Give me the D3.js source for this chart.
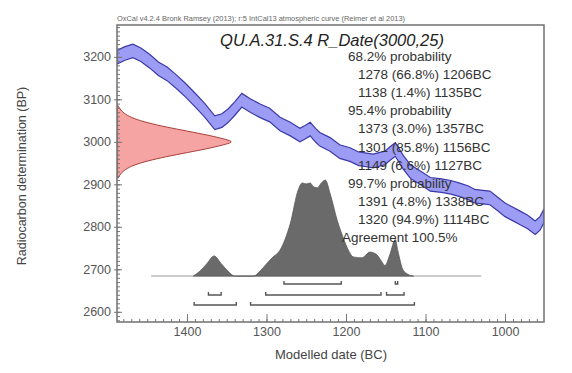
<!DOCTYPE html>
<html>
<head>
<meta charset="utf-8">
<script src="https://cdn.jsdelivr.net/npm/d3@7"></script>
<style>
  body { margin: 0; background: #fff; }
  svg { display: block; font-family: Arial, "Liberation Sans", sans-serif; }
</style>
</head>
<body>
<script>
// calibration curve (IntCal13), cal BC vs BP
const calYears = [1488,1478,1468,1458,1447,1436,1425,1413,1402,1390,1378,1365,1356,1348,1340,1331,1320,1308,1296,1283,1270,1258,1252,1245,1238,1233,1220,1208,1195,1184,1176,1166,1151,1145,1138,1128,1119,1106,1094,1080,1068,1057,1046,1038,1028,1019,1010,1000,990,981,972,962,956,951];
const calBP = [3199,3208,3214,3205,3190,3172,3160,3141,3122,3099,3075,3045,3050,3062,3078,3098,3085,3073,3063,3042,3030,3016,3022,3030,3015,3006,2994,2977,2970,2960,2958,2955,2962,2972,2982,2952,2930,2915,2900,2897,2893,2887,2880,2872,2870,2868,2855,2840,2830,2821,2812,2798,2808,2826];
const calErr = 16;

// R_Date(3000,25) measured distribution (relative density by BP)
const rBP = [2915,2925,2935,2945,2955,2965,2975,2985,2995,3000,3005,3015,3025,3035,3045,3055,3065,3075,3085];
const rDens = [0.01,0.03,0.07,0.14,0.26,0.42,0.61,0.80,0.95,1.0,0.95,0.80,0.61,0.42,0.26,0.14,0.07,0.03,0.01];

// modelled (posterior) distribution
const postYears = [1392,1384,1375,1366,1356,1347,1340,1317,1304,1293,1283,1270,1260,1255,1250,1245,1241,1236,1231,1226,1220,1211,1204,1197,1191,1180,1170,1161,1155,1151,1145,1138,1135,1128,1120,1115];
const postDens = [0,0.05,0.13,0.21,0.12,0.04,0,0,0.09,0.19,0.27,0.55,0.90,0.97,0.96,0.97,0.93,0.92,0.97,1.0,0.86,0.58,0.41,0.27,0.2,0.19,0.25,0.22,0.15,0.11,0.22,0.38,0.27,0.06,0.01,0];

// highest posterior density ranges [from, to] BC
const hpd68 = [[1278,1206],[1138,1135]];
const hpd95 = [[1373,1357],[1301,1156],[1149,1127]];
const hpd99 = [[1391,1338],[1320,1114]];

const summaryLines = [
  {t: "68.2% probability", indent: 0},
  {t: "1278 (66.8%) 1206BC", indent: 1},
  {t: "1138 (1.4%) 1135BC", indent: 1},
  {t: "95.4% probability", indent: 0},
  {t: "1373 (3.0%) 1357BC", indent: 1},
  {t: "1301 (85.8%) 1156BC", indent: 1},
  {t: "1149 (6.6%) 1127BC", indent: 1},
  {t: "99.7% probability", indent: 0},
  {t: "1391 (4.8%) 1338BC", indent: 1},
  {t: "1320 (94.9%) 1114BC", indent: 1},
  {t: "Agreement 100.5%", indent: -1}
];

const xTicks = [1400,1300,1200,1100,1000];
const yTicks = [2600,2700,2800,2900,3000,3100,3200];

const W = 572, H = 373;
const L = 117, R = 544, T = 25, B = 322;

const svg = d3.select("body").append("svg")
  .attr("width", W).attr("height", H);

const x = d3.scaleLinear().domain([1488, 951]).range([L, R]);
const y = d3.scaleLinear().domain([2576, 3275]).range([B, T]);

const plot = svg.append("g");
plot.append("clipPath").attr("id", "clip")
  .append("rect").attr("x", L).attr("y", T).attr("width", R - L).attr("height", B - T);
const inner = plot.append("g").attr("clip-path", "url(#clip)");

// calibration band
const cal = calYears.map((yr, i) => ({yr, bp: calBP[i]}));
inner.append("path")
  .datum(cal)
  .attr("d", d3.area().x(d => x(d.yr)).y0(d => y(d.bp - calErr)).y1(d => y(d.bp + calErr)))
  .attr("fill", "#9c9cf4")
  .attr("stroke", "#3a3aa8")
  .attr("stroke-width", 1.2);

// measured date on the y axis
const rSpan = 146; // years of x covered by full density
const rdat = rBP.map((bp, i) => ({bp, d: rDens[i]}));
inner.append("path")
  .datum(rdat)
  .attr("d", d3.area().curve(d3.curveBasis).y(d => y(d.bp)).x0(x(1488)).x1(d => x(1488 - d.d * rSpan)))
  .attr("fill", "#f5a3a3")
  .attr("stroke", "#a8403a")
  .attr("stroke-width", 1);

// posterior
const baseBP = 2684, postSpan = 226;
inner.append("line")
  .attr("x1", x(1445)).attr("x2", x(1030))
  .attr("y1", y(baseBP)).attr("y2", y(baseBP))
  .attr("stroke", "#bbb").attr("stroke-width", 1.5);
const post = postYears.map((yr, i) => ({yr, d: postDens[i]}));
inner.append("path")
  .datum(post)
  .attr("d", d3.area().curve(d3.curveMonotoneX).x(d => x(d.yr)).y0(y(baseBP)).y1(d => y(baseBP + d.d * postSpan)))
  .attr("fill", "#6a6a6a")
  .attr("stroke", "#5a5a5a")
  .attr("stroke-width", 0.8);

// range brackets
const rows = [{r: hpd68, py: 284}, {r: hpd95, py: 295}, {r: hpd99, py: 305}];
rows.forEach(row => {
  row.r.forEach(([a, b]) => {
    const x0 = x(a), x1 = x(b);
    inner.append("path")
      .attr("d", `M${x0},${row.py - 3}V${row.py}H${x1}V${row.py - 3}`)
      .attr("fill", "none")
      .attr("stroke", "#555")
      .attr("stroke-width", 1.4);
  });
});

// axes
const axisColor = "#777";
const gx = svg.append("g").attr("transform", `translate(0,${B})`);
gx.call(d3.axisBottom(x).tickValues(d3.range(1480, 950, -10)).tickSize(-3).tickFormat(""));
const gx2 = svg.append("g").attr("transform", `translate(0,${B})`);
gx2.call(d3.axisBottom(x).tickValues(xTicks).tickSizeInner(-8).tickSizeOuter(0).tickPadding(5).tickFormat(d3.format("d")));

const gy = svg.append("g").attr("transform", `translate(${L},0)`);
gy.call(d3.axisLeft(y).tickValues(d3.range(2580, 3280, 10)).tickSize(-3).tickFormat(""));
const gy2 = svg.append("g").attr("transform", `translate(${L},0)`);
gy2.call(d3.axisLeft(y).tickValues(yTicks).tickSizeInner(3).tickSizeOuter(0).tickPadding(3).tickFormat(d3.format("d")));
gy2.selectAll(".tick line").attr("x2", -3).attr("x1", 5);

[gx, gx2, gy, gy2].forEach(g => {
  g.select(".domain").remove();
  g.selectAll(".tick line").attr("stroke", axisColor);
  g.selectAll("text").attr("fill", "#555").style("font-size", "12.5px").style("font-family", "Arial, 'Liberation Sans', sans-serif");
});

// frame
svg.append("rect")
  .attr("x", L).attr("y", T).attr("width", R - L).attr("height", B - T)
  .attr("fill", "none").attr("stroke", "#707070").attr("stroke-width", 1.5);

// texts
svg.append("text")
  .attr("x", L).attr("y", 21)
  .attr("textLength", 288).attr("lengthAdjust", "spacingAndGlyphs")
  .style("font-size", "6.5px").attr("fill", "#666")
  .text("OxCal v4.2.4 Bronk Ramsey (2013); r:5 IntCal13 atmospheric curve (Reimer et al 2013)");

svg.append("text")
  .attr("x", 332).attr("y", 46)
  .attr("text-anchor", "middle")
  .style("font-size", "16.5px").style("font-style", "italic")
  .attr("fill", "#222")
  .text("QU.A.31.S.4 R_Date(3000,25)");

svg.append("g").selectAll("text")
  .data(summaryLines)
  .join("text")
  .attr("x", d => d.indent === 1 ? 358 : d.indent === 0 ? 348 : 342)
  .attr("y", (d, i) => 61 + i * 18.1)
  .style("font-size", "13.5px")
  .attr("fill", "#333")
  .text(d => d.t);

svg.append("text")
  .attr("x", 331).attr("y", 359)
  .attr("text-anchor", "middle")
  .style("font-size", "13px").attr("fill", "#444")
  .text("Modelled date (BC)");

svg.append("text")
  .attr("transform", `translate(26,176) rotate(-90)`)
  .attr("text-anchor", "middle")
  .style("font-size", "12.5px").attr("fill", "#444")
  .text("Radiocarbon determination (BP)");
</script>
</body>
</html>
